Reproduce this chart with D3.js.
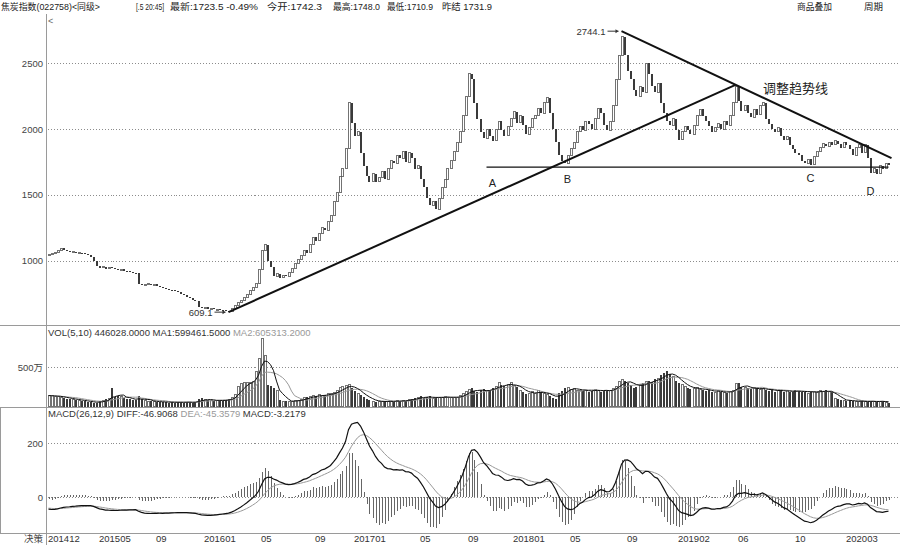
<!DOCTYPE html>
<html><head><meta charset="utf-8">
<script src="https://cdn.jsdelivr.net/npm/d3@7"></script>
<style>body{margin:0;background:#fff}svg{display:block}text{font-family:"Liberation Sans","Noto Sans CJK SC",sans-serif}</style>
</head><body><svg id="c" width="900" height="545"></svg>
<script>
// ---- data (weekly) ----
const firstOpen = 1040;
const closes = [
1048,1052,1060,1075,1095,1085,1070,1065,1068,1060,
1062,1055,1050,1040,1030,1000,960,945,955,940,
950,945,935,930,935,925,920,915,910,905,
820,815,820,825,815,820,810,800,790,785,
780,775,770,760,750,740,725,715,700,690,
650,640,645,635,638,630,632,628,625,620,
615,640,660,680,700,720,745,770,800,830,
930,1080,1120,1000,950,880,900,870,890,880,
910,940,980,1010,1040,1080,1060,1120,1180,1150,
1210,1250,1230,1300,1340,1450,1520,1640,1700,1850,
2200,2050,1950,1980,1820,1720,1640,1600,1660,1600,
1630,1680,1620,1700,1760,1740,1800,1780,1830,1750,
1820,1780,1700,1720,1620,1560,1480,1420,1450,1390,
1470,1560,1620,1700,1760,1830,1900,1980,2100,2250,
2420,2380,2200,2080,1980,1930,2000,1950,1910,2000,
2060,1990,1950,2020,2080,2130,2050,2100,2030,1960,
2010,2080,2100,2160,2120,2200,2240,2120,2000,1900,
1800,1760,1740,1800,1850,1900,1980,2020,1990,2060,
2040,2000,2080,2160,2120,2030,1990,2060,2180,2380,
2560,2700,2560,2440,2380,2300,2250,2320,2280,2500,
2420,2330,2280,2350,2200,2120,2060,2030,2080,1990,
1920,1980,2020,1990,1960,2030,2100,2150,2100,2060,
2020,1980,2010,2040,2000,2060,2030,2100,2200,2320,
2210,2140,2180,2120,2090,2150,2110,2180,2200,2080,
2040,2000,1980,2010,1950,1920,1940,1880,1850,1820,
1800,1760,1740,1770,1730,1790,1830,1860,1890,1870,
1900,1880,1910,1890,1860,1900,1880,1850,1800,1860,
1880,1820,1880,1780,1670,1700,1660,1720,1700,1740,
1723.5];
// volume in 万
const volumes = [
140,135,130,125,120,110,100,95,90,85,
80,70,65,60,55,50,45,70,80,90,
100,230,120,140,130,110,100,90,85,80,
130,90,80,70,65,60,60,55,60,55,
50,55,50,60,55,50,60,55,50,60,
90,110,90,80,75,70,80,85,75,80,
90,120,150,250,290,300,310,300,320,450,
610,870,650,280,260,230,200,80,60,70,
65,70,75,80,90,110,120,130,140,130,
150,140,150,160,170,180,200,240,260,270,
280,230,200,170,150,120,90,80,70,60,
65,60,70,65,70,60,75,70,80,75,
85,100,110,120,130,110,120,130,100,120,
110,120,130,120,110,110,120,140,160,190,
220,230,200,180,210,220,200,210,240,260,
300,270,260,280,300,270,250,200,180,160,
170,190,160,200,180,170,150,130,110,100,
170,200,230,240,220,230,210,200,200,210,
190,200,220,210,190,200,210,200,230,260,
320,340,330,300,280,240,250,280,300,320,
330,310,350,360,400,430,450,410,380,330,
300,280,250,240,220,230,240,220,210,200,
210,190,180,200,190,180,170,190,210,290,
300,250,240,230,220,240,230,220,230,210,
200,220,190,200,210,190,200,190,180,210,
200,190,180,170,200,190,180,200,190,210,
190,180,100,90,80,75,70,80,70,65,
60,70,65,60,70,65,55,70,70,55,
44.6];
const macdSeed = {ema12Gap: 60, ema26Gap: 104, dea: -40};
const priceTicks = [1000,1500,2000,2500];
const volTicks = [500];
const volTickLabels = ["500万"];
const macdTicks = [0,200];
const dateIdx = [0,17,36,52,71,89,102,124,140,155,174,193,210,230,249,266];
const dateLabels = ["201412","201505","09","201601","05","09","201701","05","09","201801","05","09","201902","06","10","202003"];
const lowMark = {i:60, v:609.1, label:"609.1"};
const highMark = {i:191, v:2744.1, label:"2744.1"};
const upTrend = [[60,609.1],[229,2336]];
const downTrend = [[191,2744.1],[281,1780]];
const supportLine = [[146,1711],[280,1711]];
const pointLabels = ["A","B","C","D"];
const pointIdx = [148,173,254,274];
const pointVals = [1562,1592,1600,1501];
const trendTitle = {i:249, v:2276, label:"调整趋势线"};
const headerTexts = ["焦炭指数(022758)<同级>","[.5 20:45]","最新:1723.5 -0.49%","今开:1742.3","最高:1748.0","最低:1710.9","昨结 1731.9","商品叠加","周期"];

// ---- derived ----
const N = closes.length;
const opens = closes.map((c,i)=> i===0 ? firstOpen : closes[i-1]);
const ma = (arr,n)=>arr.map((_,i)=>{const s=arr.slice(Math.max(0,i-n+1),i+1);return d3.mean(s);});
const volMa5 = ma(volumes,5), volMa10 = ma(volumes,10);
let e12 = closes[0]+macdSeed.ema12Gap, e26 = closes[0]+macdSeed.ema26Gap, dea = macdSeed.dea;
const diffArr=[], deaArr=[], histArr=[];
closes.forEach((c,i)=>{
  if(i>0){ e12 = e12*11/13 + c*2/13; e26 = e26*25/27 + c*2/27; }
  const d = e12-e26;
  if(i>0) dea = dea*0.8 + d*0.2;
  diffArr.push(d); deaArr.push(dea); histArr.push(2*(d-dea));
});

// ---- scales ----
const svg = d3.select("#c");
const W = 900;
const xs = d3.scaleLinear().domain([0, N-1]).range([48.5, 48.5 + 3*(N-1)]);
const yP = d3.scaleLinear().domain([1000,2500]).range([260.7,63.3]);
const yV = d3.scaleLinear().domain([0,500]).range([406.5,367.3]);
const yM = d3.scaleLinear().domain([0,200]).range([497.3,443.3]);
const axisX = 46.5;

// frame lines
const g0 = svg.append("g").attr("stroke","#9a9a9a").attr("stroke-width",1).attr("shape-rendering","crispEdges");
g0.append("line").attr("x1",axisX).attr("x2",axisX).attr("y1",14).attr("y2",545);
[325.5,407.5,533.5].forEach(y=>g0.append("line").attr("x1",0).attr("x2",W).attr("y1",y).attr("y2",y));
g0.append("line").attr("x1",0.5).attr("x2",0.5).attr("y1",407.5).attr("y2",533.5);

// gridlines
const grid = svg.append("g").attr("stroke","#8c8c8c").attr("stroke-dasharray","1,2").attr("shape-rendering","crispEdges");
priceTicks.forEach(t=>grid.append("line").attr("x1",axisX+1).attr("x2",W).attr("y1",Math.round(yP(t))+0.5).attr("y2",Math.round(yP(t))+0.5));
volTicks.forEach(t=>grid.append("line").attr("x1",axisX+1).attr("x2",W).attr("y1",Math.round(yV(t))+0.5).attr("y2",Math.round(yV(t))+0.5));
macdTicks.forEach(t=>grid.append("line").attr("x1",axisX+1).attr("x2",W).attr("y1",Math.round(yM(t))+0.5).attr("y2",Math.round(yM(t))+0.5));

// axis labels
const lab = svg.append("g").attr("font-size",9.5).attr("fill","#444").attr("text-anchor","end");
priceTicks.forEach(t=>lab.append("text").attr("x",43).attr("y",yP(t)+3.5).text(t));
volTicks.forEach((t,k)=>lab.append("text").attr("x",43).attr("y",yV(t)+3.5).text(volTickLabels[k]));
macdTicks.forEach(t=>lab.append("text").attr("x",43).attr("y",yM(t)+3.5).text(t));
lab.append("text").attr("x",43).attr("y",542).text("决策");
const dl = svg.append("g").attr("font-size",9.5).attr("fill","#333");
dateIdx.forEach((d,k)=>dl.append("text").attr("x",xs(d)-0.5).attr("y",542).text(dateLabels[k]));

// candles
const cg = svg.append("g").attr("shape-rendering","crispEdges");
closes.forEach((c,i)=>{
  const o = opens[i], up = c>=o;
  const y1 = yP(Math.max(o,c)), y2 = yP(Math.min(o,c));
  const h = Math.max(1, y2-y1);
  cg.append("rect").attr("x",Math.round(xs(i))-1).attr("y",y1).attr("width",2).attr("height",h)
    .attr("fill", up ? "#fff" : "#3a3a3a").attr("stroke", up ? "#505050" : "none").attr("stroke-width",0.8);
});

// volume bars
const vg = svg.append("g").attr("shape-rendering","crispEdges");
volumes.forEach((v,i)=>{
  const up = closes[i]>=opens[i];
  vg.append("rect").attr("x",Math.round(xs(i))-1).attr("y",yV(v)).attr("width",2).attr("height",Math.max(0.5,yV(0)-yV(v)))
    .attr("fill", up ? "#fff" : "#3a3a3a").attr("stroke", up ? "#505050" : "none").attr("stroke-width",0.8);
});
const lineV = (arr)=>d3.line().x((d,i)=>xs(i)).y(d=>yV(d))(arr);
svg.append("path").attr("d",lineV(volMa10)).attr("fill","none").attr("stroke","#999").attr("stroke-width",1);
svg.append("path").attr("d",lineV(volMa5)).attr("fill","none").attr("stroke","#111").attr("stroke-width",1);

// macd
const mg = svg.append("g").attr("stroke","#666").attr("stroke-width",1).attr("shape-rendering","crispEdges");
histArr.forEach((h,i)=>mg.append("line").attr("x1",Math.round(xs(i))+0.5).attr("x2",Math.round(xs(i))+0.5).attr("y1",yM(0)).attr("y2",yM(h)));
const lineM = (arr)=>d3.line().x((d,i)=>xs(i)).y(d=>yM(d))(arr);
svg.append("path").attr("d",lineM(deaArr)).attr("fill","none").attr("stroke","#999").attr("stroke-width",1);
svg.append("path").attr("d",lineM(diffArr)).attr("fill","none").attr("stroke","#111").attr("stroke-width",1.2);

// annotations
const seg = (pts,w)=>svg.append("line").attr("x1",xs(pts[0][0])).attr("y1",yP(pts[0][1])).attr("x2",xs(pts[1][0])).attr("y2",yP(pts[1][1])).attr("stroke","#111").attr("stroke-width",w);
seg(upTrend,2); seg(downTrend,2); seg(supportLine,1.3);
const ag = svg.append("g").attr("fill","#222");
pointLabels.forEach((t,k)=>ag.append("text").attr("x",xs(pointIdx[k])).attr("y",yP(pointVals[k])).attr("text-anchor","middle").attr("font-size",11).text(t));
ag.append("text").attr("x",xs(trendTitle.i)).attr("y",yP(trendTitle.v)).attr("text-anchor","middle").attr("font-size",13).attr("font-family","Noto Sans CJK SC").text(trendTitle.label);
[lowMark,highMark].forEach(m=>{
  const x = xs(m.i), y = yP(m.v);
  ag.append("text").attr("x",x-16).attr("y",y+3.5).attr("text-anchor","end").attr("font-size",9.5).attr("fill","#333").text(m.label);
  ag.append("line").attr("x1",x-14).attr("x2",x-3).attr("y1",y).attr("y2",y).attr("stroke","#333").attr("stroke-width",1);
  ag.append("path").attr("d",`M${x-3},${y}l-3,-2v4z`).attr("fill","#333");
});

// header texts
const hg = svg.append("g").attr("font-size",9).attr("fill","#222");
const hX = [1,136,170,267,333,387,442,797,864];
const hLen = [99,28,88,55,47,46,50,35,19];
headerTexts.forEach((t,k)=>hg.append("text").attr("x",hX[k]).attr("y",10)
  .attr("textLength",hLen[k]).attr("lengthAdjust","spacingAndGlyphs").text(t));
hg.append("text").attr("x",48).attr("y",24).attr("fill","#666").text("<");

// indicator titles
const vt = svg.append("text").attr("x",48).attr("y",336).attr("font-size",9.5).attr("fill","#333");
vt.append("tspan").text("VOL(5,10) 446028.0000 MA1:599461.5000 ");
vt.append("tspan").attr("fill","#999").text("MA2:605313.2000");
const mt = svg.append("text").attr("x",48).attr("y",417).attr("font-size",9.5).attr("fill","#333");
mt.append("tspan").text("MACD(26,12,9) DIFF:-46.9068 ");
mt.append("tspan").attr("fill","#999").text("DEA:-45.3579 ");
mt.append("tspan").text("MACD:-3.2179");
</script></body></html>
